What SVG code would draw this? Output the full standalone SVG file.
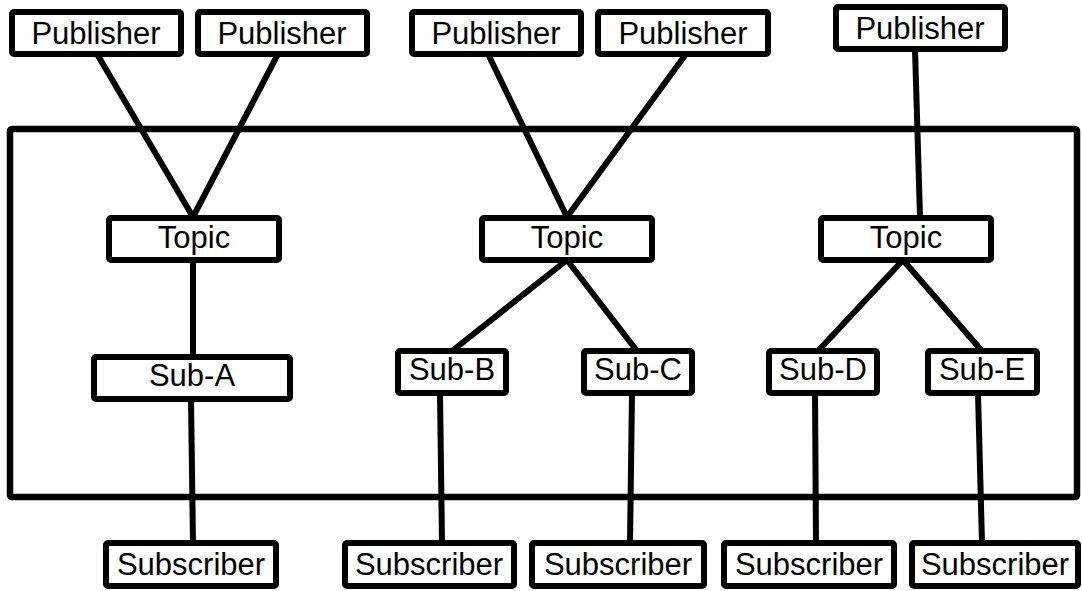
<svg xmlns="http://www.w3.org/2000/svg" width="1082" height="591" viewBox="0 0 1082 591">
<style>
.box{fill:#fff;stroke:#000;stroke-width:6}
.edge{stroke:#000;stroke-width:6;fill:none;stroke-linecap:butt}
text{font-family:"Liberation Sans",Arial,sans-serif;font-size:31px;fill:#000;text-anchor:middle}
</style>
<rect id="container" x="10" y="129" width="1067" height="368" fill="none" stroke="#000" stroke-width="6.5" rx="2"/>
<g id="connectors">
<line class="edge" x1="97" y1="54" x2="193" y2="217"/>
<line class="edge" x1="278" y1="54" x2="193" y2="217"/>
<line class="edge" x1="488" y1="54" x2="567" y2="217"/>
<line class="edge" x1="686" y1="54" x2="567" y2="217"/>
<line class="edge" x1="915" y1="49" x2="920" y2="217"/>
<line class="edge" x1="193" y1="260" x2="193" y2="357"/>
<line class="edge" x1="191" y1="399" x2="193" y2="543"/>
<line class="edge" x1="567" y1="260" x2="452" y2="351"/>
<line class="edge" x1="567" y1="260" x2="637" y2="351"/>
<line class="edge" x1="903" y1="260" x2="818" y2="351"/>
<line class="edge" x1="903" y1="260" x2="982" y2="351"/>
<line class="edge" x1="440" y1="393" x2="442" y2="543"/>
<line class="edge" x1="632" y1="393" x2="630" y2="543"/>
<line class="edge" x1="815" y1="393" x2="816" y2="543"/>
<line class="edge" x1="978" y1="393" x2="982" y2="543"/>
</g>
<g id="pub1"><rect class="box" x="12" y="12" width="169" height="42" rx="2"/><text x="96" y="44">Publisher</text></g>
<g id="pub2"><rect class="box" x="198" y="12" width="169" height="42" rx="2"/><text x="282" y="44">Publisher</text></g>
<g id="pub3"><rect class="box" x="412" y="12" width="169" height="42" rx="2"/><text x="496" y="44">Publisher</text></g>
<g id="pub4"><rect class="box" x="598" y="12" width="170" height="42" rx="2"/><text x="683" y="44">Publisher</text></g>
<g id="pub5"><rect class="box" x="836" y="7" width="169" height="42" rx="2"/><text x="920" y="39">Publisher</text></g>
<g id="topic1"><rect class="box" x="109" y="218" width="170" height="42" rx="2"/><text x="194" y="248">Topic</text></g>
<g id="topic2"><rect class="box" x="482" y="218" width="170" height="42" rx="2"/><text x="567" y="248">Topic</text></g>
<g id="topic3"><rect class="box" x="821" y="218" width="170" height="42" rx="2"/><text x="906" y="248">Topic</text></g>
<g id="subA"><rect class="box" x="94" y="357" width="196" height="42" rx="2"/><text x="192" y="386">Sub-A</text></g>
<g id="subB"><rect class="box" x="398" y="351" width="108" height="42" rx="2"/><text x="452" y="380">Sub-B</text></g>
<g id="subC"><rect class="box" x="584" y="351" width="108" height="42" rx="2"/><text x="638" y="380">Sub-C</text></g>
<g id="subD"><rect class="box" x="769" y="351" width="108" height="42" rx="2"/><text x="823" y="380">Sub-D</text></g>
<g id="subE"><rect class="box" x="928" y="351" width="109" height="42" rx="2"/><text x="982" y="380">Sub-E</text></g>
<g id="subscriber1"><rect class="box" x="106" y="543" width="170" height="43" rx="2"/><text x="191" y="575">Subscriber</text></g>
<g id="subscriber2"><rect class="box" x="345" y="543" width="169" height="43" rx="2"/><text x="429" y="575">Subscriber</text></g>
<g id="subscriber3"><rect class="box" x="532" y="543" width="172" height="43" rx="2"/><text x="618" y="575">Subscriber</text></g>
<g id="subscriber4"><rect class="box" x="724" y="543" width="170" height="43" rx="2"/><text x="809" y="575">Subscriber</text></g>
<g id="subscriber5"><rect class="box" x="912" y="543" width="166" height="43" rx="2"/><text x="995" y="575">Subscriber</text></g>
</svg>
